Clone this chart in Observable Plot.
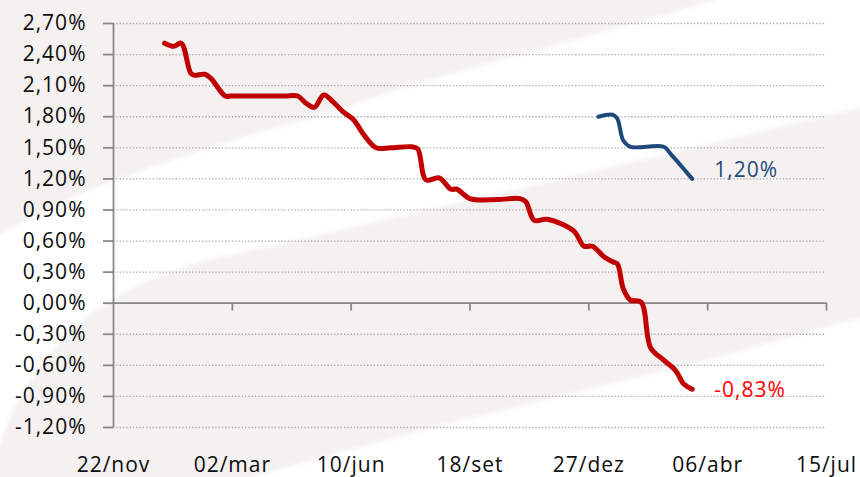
<!DOCTYPE html>
<html><head><meta charset="utf-8">
<script src="https://cdn.jsdelivr.net/npm/d3@7"></script>
<script src="https://cdn.jsdelivr.net/npm/@observablehq/plot@0.6"></script>
<style>
html,body{margin:0;padding:0;background:#fff;}
#wrap{position:relative;width:860px;height:477px;overflow:hidden;}
#bg{position:absolute;left:0;top:0;}
#chart{position:absolute;left:0;top:0;}
</style></head><body>
<div id="wrap">
<svg id="bg" width="860" height="477">
  <defs><filter id="soft"><feGaussianBlur stdDeviation="2"/></filter></defs>
  <rect x="0" y="0" width="860" height="477" fill="#f4f1f0"/>
  <g filter="url(#soft)" fill="#ffffff">
    <path d="M0,445 C40,330 120,285 200,262 L350,228 L600,170 L860,108 L870,108 L870,-10 L715,-10 L715,0 C600,35 450,70 343,108 L250,135 L173,160 C110,180 50,205 0,235 L-10,235 L-10,445 Z"/>
    <path d="M250,487 L250,477 L430,428 L600,386 L700,362 L860,318 L870,318 L870,487 Z"/>
  </g>
</svg>
<div id="chart"></div>
</div>
<script>
// ---- data ----
const xTickDates = ["2013-11-22","2014-03-02","2014-06-10","2014-09-18","2014-12-27","2015-04-06","2015-07-15"];
const xTickLabels = ["22/nov","02/mar","10/jun","18/set","27/dez","06/abr","15/jul"];
const yTicks = [-1.2,-0.9,-0.6,-0.3,0,0.3,0.6,0.9,1.2,1.5,1.8,2.1,2.4,2.7];

const redDates = ["2014-01-04","2014-01-12","2014-01-18","2014-01-26","2014-01-29","2014-02-07","2014-02-12","2014-02-24","2014-03-01",
  "2014-03-25","2014-04-15",
  "2014-04-26","2014-05-03","2014-05-10","2014-05-18","2014-05-26","2014-06-03","2014-06-12","2014-06-21","2014-07-01","2014-07-13",
  "2014-07-31","2014-08-05","2014-08-12","2014-08-23","2014-09-02","2014-09-07","2014-09-18","2014-10-11","2014-10-30","2014-11-04",
  "2014-11-11","2014-11-22","2014-12-14","2014-12-23","2014-12-30","2015-01-09","2015-01-16","2015-01-20","2015-01-25","2015-01-31",
  "2015-02-09","2015-02-17","2015-02-28","2015-03-10","2015-03-17","2015-03-24"];
const redValues = [2.51,2.48,2.51,2.22,2.20,2.21,2.17,2.00,2.00,
  2.00,2.00,
  2.00,1.93,1.89,2.01,1.94,1.85,1.77,1.62,1.50,1.50,
  1.51,1.49,1.19,1.21,1.10,1.10,1.01,1.00,1.01,0.98,
  0.80,0.81,0.70,0.55,0.55,0.445,0.40,0.38,0.14,0.03,
  0.01,-0.43,-0.55,-0.65,-0.78,-0.83];

const blueDates = ["2015-01-04","2015-01-16","2015-01-20","2015-01-25","2015-01-31","2015-02-28","2015-03-06","2015-03-24"];
const blueValues = [1.80,1.82,1.78,1.57,1.51,1.51,1.44,1.20];

// ---- build ----
const red = redDates.map((d,i) => ({date: new Date(d), value: redValues[i]}));
const blue = blueDates.map((d,i) => ({date: new Date(d), value: blueValues[i]}));
const xTicks = xTickDates.map((d,i) => ({date: new Date(d), label: xTickLabels[i]}));
const fmt = v => (Math.abs(v) < 1e-9 ? 0 : v).toFixed(2).replace(".", ",") + "%";
const axisColor = "#868686";

const chart = Plot.plot({
  width: 860, height: 477,
  marginLeft: 113, marginRight: 34, marginTop: 23, marginBottom: 50,
  style: {background: "transparent", fontFamily: "'Open Sans', sans-serif", fontSize: "21px", letterSpacing: "1px", color: "#0d0d0d"},
  x: {type: "utc", axis: null, domain: [xTicks[0].date, xTicks[xTicks.length-1].date]},
  y: {domain: [yTicks[0], yTicks[yTicks.length-1]]},
  marks: [
    Plot.ruleY(yTicks.filter(v => v !== 0), {stroke: "#a6a6a6", strokeWidth: 1.3, strokeDasharray: "1.3,2"}),
    Plot.ruleY([0], {stroke: axisColor, strokeWidth: 1.75}),
    Plot.ruleX(xTicks.slice(1), {x: "date", y1: 0, y2: -0.075, stroke: axisColor, strokeWidth: 1.75}),
    Plot.ruleX(xTicks.slice(0,1), {x: "date", stroke: axisColor, strokeWidth: 1.75}),
    Plot.axisY({ticks: yTicks, tickSize: 10, tickPadding: 17, tickFormat: fmt, stroke: axisColor, strokeWidth: 1.75, fontSize: 21, label: null}),
    Plot.text(xTicks, {x: "date", frameAnchor: "bottom", dy: 38, text: "label", fontSize: 21, lineAnchor: "middle"}),
    Plot.line(red, {x: "date", y: "value", stroke: "#c00000", strokeWidth: 5, curve: "catmull-rom"}),
    Plot.line(blue, {x: "date", y: "value", stroke: "#1f497d", strokeWidth: 4, curve: "catmull-rom"}),
    Plot.text(red, Plot.selectLast({x: "date", y: "value", text: d => fmt(d.value), dx: 22, dy: 1, textAnchor: "start", fill: "#ff0000", fontSize: 21})),
    Plot.text(blue, Plot.selectLast({x: "date", y: "value", text: d => fmt(d.value), dx: 22, dy: -9, textAnchor: "start", fill: "#1f497d", fontSize: 21}))
  ]
});
document.getElementById("chart").appendChild(chart);
</script>
</body></html>
